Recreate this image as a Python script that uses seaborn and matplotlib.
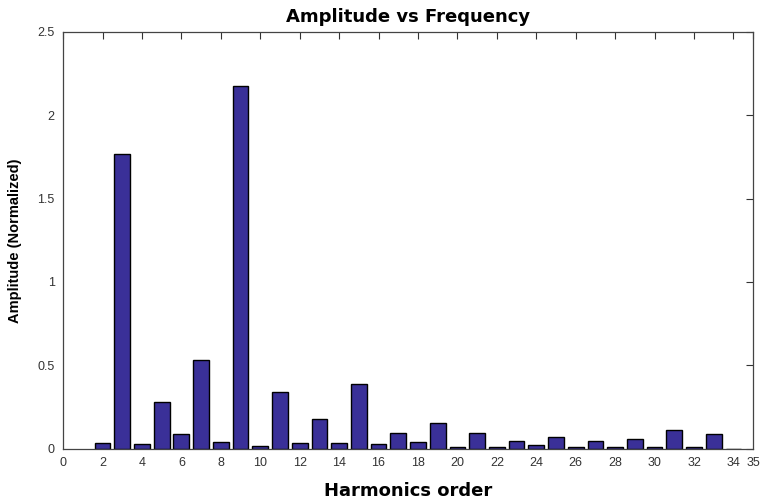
import matplotlib
matplotlib.use("Agg")
import matplotlib.pyplot as plt
import seaborn as sns
import pandas as pd

# Harmonic spectrum: order and normalized amplitude
harmonics = list(range(2, 35))
amplitudes = [0.035, 1.77, 0.027, 0.28, 0.087, 0.529, 0.037, 2.175, 0.017,
              0.337, 0.033, 0.177, 0.033, 0.385, 0.027, 0.091, 0.037, 0.151,
              0.011, 0.091, 0.011, 0.047, 0.019, 0.071, 0.007, 0.047, 0.007,
              0.059, 0.007, 0.111, 0.007, 0.087, 0.0]

x_ticks = list(range(0, 35, 2)) + [35]
y_ticks = [0, 0.5, 1, 1.5, 2, 2.5]
y_tick_labels = ["0", "0.5", "1", "1.5", "2", "2.5"]

sns.set_theme(style="white")
plt.rcParams["font.family"] = ["Liberation Sans", "DejaVu Sans"]

df = pd.DataFrame({"order": harmonics, "amp": amplitudes})

fig = plt.figure(figsize=(7.6, 4.99), dpi=100)
ax = fig.add_axes([0.083, 0.101, 0.908, 0.835])

sns.barplot(data=df, x="order", y="amp", native_scale=True, width=0.8,
            color="#3a3098", saturation=1, edgecolor="black", linewidth=1.0,
            ax=ax)

ax.set_axisbelow(True)
ax.set_xlim(0, 35)
ax.set_ylim(0, 2.5)
ax.set_xticks(x_ticks)
ax.set_xticklabels([str(t) for t in x_ticks])
ax.set_yticks(y_ticks)
ax.set_yticklabels(y_tick_labels)
ax.tick_params(axis="both", direction="in", length=5, width=0.8,
               top=True, right=True, labelsize=9, labelcolor="#333333",
               color="#333333", pad=6)

for s in ax.spines.values():
    s.set_color("#444444")
    s.set_linewidth(0.9)

ax.set_title("Amplitude vs Frequency", fontsize=13, fontweight="bold",
             pad=7, family="DejaVu Sans", color="black")
ax.set_xlabel("Harmonics order", fontsize=13, fontweight="bold",
              family="DejaVu Sans", color="black")
ax.xaxis.set_label_coords(0.5, -0.114)
ax.xaxis.label.set_va("baseline")
ax.set_ylabel("Amplitude (Normalized)", fontsize=10.5, fontweight="bold",
              color="black")
ax.yaxis.set_label_coords(-0.0696, 0.5)
ax.yaxis.label.set_va("center")

fig.savefig("out.png", dpi=100)
